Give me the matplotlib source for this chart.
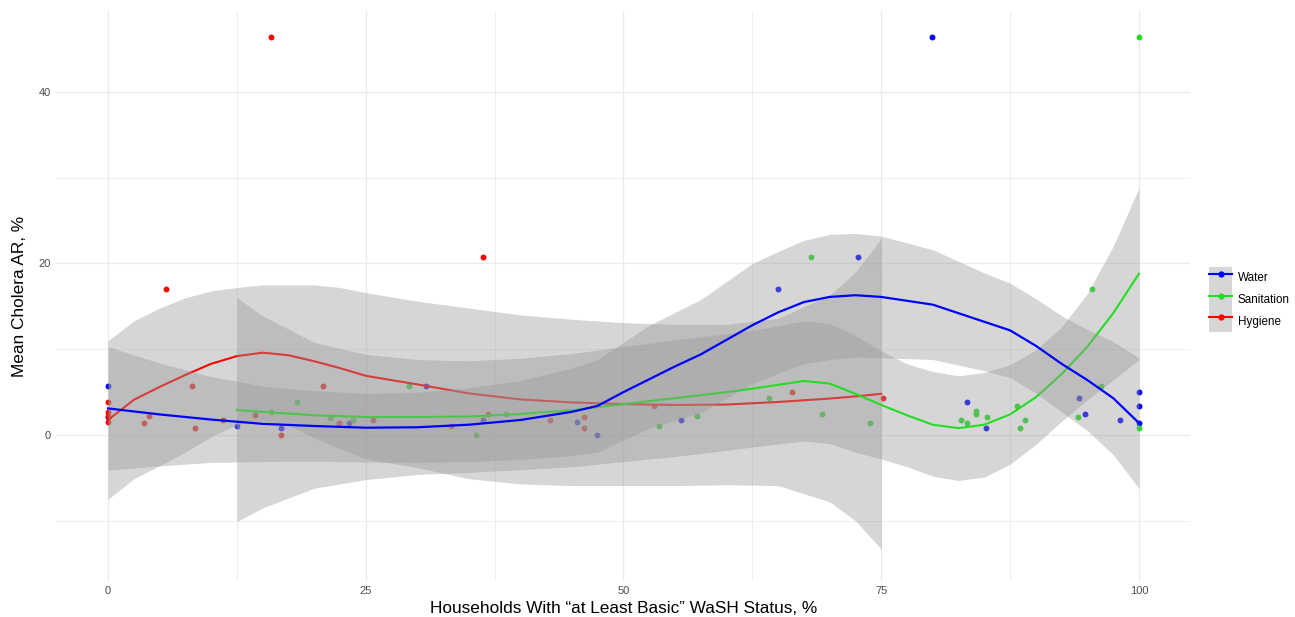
import matplotlib
matplotlib.use("Agg")
import matplotlib.pyplot as plt
from matplotlib.lines import Line2D
from matplotlib.patches import Patch

plt.rcParams['font.family'] = ['Liberation Sans', 'DejaVu Sans']

# scatter points
water_x = [0, 0, 12.5, 16.8, 23.4, 30.8, 36.4, 45.5, 47.4, 55.6, 65.0, 72.7, 79.9,
           83.3, 85.2, 94.2, 94.8, 98.2, 100, 100, 100]
water_y = [5.7, 2.1, 1.0, 0.8, 1.4, 5.7, 1.8, 1.5, 0.0, 1.8, 17.0, 20.8, 46.4,
           3.85, 0.8, 4.3, 2.5, 1.8, 5.0, 3.4, 1.4]

sanit_x = [15.8, 18.3, 21.5, 23.8, 29.2, 35.7, 38.6, 53.4, 57.1, 64.1, 68.2, 69.3, 73.9,
           82.7, 83.3, 84.2, 84.2, 85.3, 88.2, 88.9, 88.5, 94.1, 95.4, 96.3, 100, 100]
sanit_y = [2.7, 3.9, 2.0, 1.8, 5.7, 0.0, 2.4, 1.05, 2.25, 4.3, 20.8, 2.4, 1.4,
           1.8, 1.4, 2.8, 2.5, 2.1, 3.4, 1.8, 0.8, 2.1, 17.0, 5.75, 46.4, 0.8]

hyg_x = [0, 0, 0, 0, 3.5, 4.0, 5.6, 8.1, 8.4, 11.2, 14.3, 15.8, 16.8, 20.9, 22.4, 25.7,
         33.3, 36.4, 36.9, 42.9, 46.2, 46.2, 53.0, 66.3, 75.2]
hyg_y = [3.9, 2.7, 1.55, 2.2, 1.4, 2.2, 17.0, 5.7, 0.8, 1.8, 2.3, 46.4, 0.0, 5.7, 1.4, 1.8,
         1.0, 20.8, 2.5, 1.8, 2.1, 0.8, 3.4, 5.0, 4.3]

# smoothed curves with their confidence bands
water_cx = [0, 5, 10, 15, 20, 25, 30, 35, 40, 45, 47.5, 50, 52.5, 55, 57.5, 60, 62.5, 65,
            67.5, 70, 72.5, 75, 80, 85, 87.5, 90, 92.5, 95, 97.5, 100]
water_cy = [3.1, 2.4, 1.8, 1.3, 1.05, 0.85, 0.9, 1.2, 1.75, 2.7, 3.4, 5.0, 6.5, 8.0, 9.4,
            11.1, 12.8, 14.3, 15.5, 16.1, 16.3, 16.1, 15.2, 13.2, 12.2, 10.4, 8.3, 6.4, 4.3, 1.4]
water_hi = [10.3, 8.4, 6.8, 5.7, 5.15, 4.85, 5.0, 5.5, 6.35, 7.8, 8.8, 10.8, 12.8, 14.3, 15.8,
            17.9, 20.0, 21.4, 22.7, 23.4, 23.5, 23.2, 21.6, 18.9, 17.7, 15.9, 13.9, 12.3, 10.9, 9.0]
water_lo = [-4.1, -3.6, -3.2, -3.1, -3.05, -3.15, -3.2, -3.1, -2.85, -2.4, -2.0, -0.6, 0.8, 1.7,
            2.6, 4.3, 6.0, 7.2, 8.3, 8.8, 9.1, 9.0, 8.8, 7.5, 6.7, 4.9, 2.7, 0.5, -2.3, -6.2]

sanit_cx = [12.5, 15, 20, 25, 30, 35, 40, 45, 50, 55, 60, 62.5, 65, 67.5, 70, 72.5, 75, 77.5,
            80, 82.5, 85, 87.5, 90, 92.5, 95, 97.5, 100]
sanit_cy = [2.9, 2.7, 2.3, 2.1, 2.1, 2.15, 2.45, 2.9, 3.6, 4.3, 5.0, 5.4, 5.85, 6.3, 6.0, 4.8,
            3.5, 2.3, 1.2, 0.8, 1.2, 2.4, 4.4, 7.1, 10.3, 14.2, 18.8]
sanit_hi = [16.0, 13.9, 10.8, 9.4, 8.8, 8.65, 8.95, 9.5, 10.3, 11.1, 11.8, 12.2, 12.75, 13.3,
            13.0, 11.6, 9.8, 8.3, 7.4, 6.9, 7.3, 8.2, 9.9, 12.6, 16.5, 22.0, 28.8]
sanit_lo = [-10.1, -8.5, -6.2, -5.2, -4.6, -4.35, -4.05, -3.7, -3.1, -2.5, -1.8, -1.4, -1.05,
            -0.7, -1.0, -2.0, -2.8, -3.7, -4.8, -5.3, -4.9, -3.4, -1.1, 1.6, 4.1, 6.4, 8.8]

hyg_cx = [0, 2.5, 5, 7.5, 10, 12.5, 15, 17.5, 20, 22.5, 25, 30, 35, 40, 45, 50, 55, 60, 65,
          70, 72.5, 75]
hyg_cy = [1.75, 4.1, 5.6, 7.0, 8.3, 9.2, 9.6, 9.3, 8.6, 7.8, 6.9, 5.9, 4.85, 4.15, 3.8, 3.6,
          3.5, 3.55, 3.85, 4.25, 4.5, 4.8]
hyg_hi = [11.0, 13.3, 14.8, 16.0, 16.8, 17.2, 17.5, 17.5, 17.5, 17.2, 16.6, 15.6, 14.8, 14.0,
          13.5, 13.1, 12.9, 12.9, 13.6, 16.3, 19.0, 22.9]
hyg_lo = [-7.5, -5.1, -3.6, -2.0, -0.2, 1.2, 1.7, 1.1, -0.3, -1.6, -2.8, -3.8, -5.1, -5.7,
          -5.9, -5.9, -5.9, -5.8, -5.9, -7.8, -10.0, -13.3]

labels = ['Water', 'Sanitation', 'Hygiene']
colors = ['#0000FF', '#22DD22', '#FF0000']
band_col = '#999999'

fig = plt.figure(figsize=(12.95, 6.17), dpi=100)
ax = fig.add_axes([0.0436, 0.0587, 0.8757, 0.9229])

# points first, the ribbons are laid over them as in the original
ax.scatter(water_x, water_y, s=18, color=colors[0], zorder=2, linewidths=0)
ax.scatter(sanit_x, sanit_y, s=18, color=colors[1], zorder=2, linewidths=0)
ax.scatter(hyg_x, hyg_y, s=18, color=colors[2], zorder=2, linewidths=0)

ax.fill_between(hyg_cx, hyg_lo, hyg_hi, color=band_col, alpha=0.4, lw=0, zorder=3)
ax.plot(hyg_cx, hyg_cy, color=colors[2], lw=1.5, zorder=3)
ax.fill_between(sanit_cx, sanit_lo, sanit_hi, color=band_col, alpha=0.4, lw=0, zorder=4)
ax.plot(sanit_cx, sanit_cy, color=colors[1], lw=1.5, zorder=4)
ax.fill_between(water_cx, water_lo, water_hi, color=band_col, alpha=0.4, lw=0, zorder=5)
ax.plot(water_cx, water_cy, color=colors[0], lw=1.6, zorder=5)

ax.set_xlim(-5, 105)
ax.set_ylim(-17, 49.4)
ax.set_xticks([0, 25, 50, 75, 100])
ax.set_yticks([0, 20, 40])
ax.set_xticks([12.5, 37.5, 62.5, 87.5], minor=True)
ax.set_yticks([-10, 10, 30], minor=True)
ax.grid(True, which='major', color='#EBEBEB', lw=1.0, zorder=0)
ax.grid(True, which='minor', color='#EBEBEB', lw=0.6, zorder=0)
ax.set_axisbelow(True)
for s in ax.spines.values():
    s.set_visible(False)
ax.tick_params(which='both', length=0, labelsize=8, labelcolor='#4D4D4D', pad=4)

ax.set_xlabel('Households With \u201cat Least Basic\u201d WaSH Status, %', fontsize=12.4, labelpad=3)
ax.set_ylabel('Mean Cholera AR, %', fontsize=12.4, labelpad=8)

handles = []
for c in colors:
    handles.append((Patch(facecolor=band_col, alpha=0.4, edgecolor='none'),
                    Line2D([], [], color=c, lw=1.5, marker='o', markersize=3.5)))
fig.legend(handles, labels, loc='center left', bbox_to_anchor=(0.9255, 0.515), frameon=False,
           fontsize=8.4, handlelength=2.0, handleheight=2.5, labelspacing=0.0,
           handletextpad=0.45, borderpad=0.4)

fig.savefig('out.png', dpi=100)
